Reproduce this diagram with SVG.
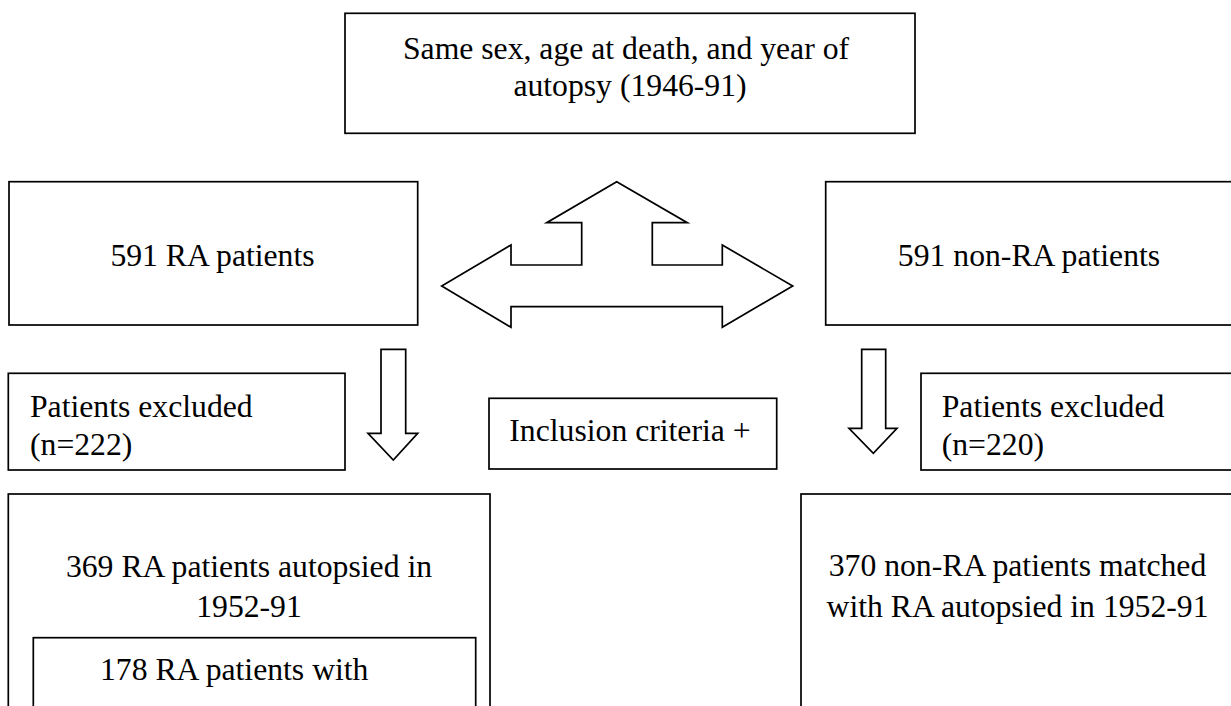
<svg xmlns="http://www.w3.org/2000/svg" width="1231" height="706" viewBox="0 0 1231 706" font-family="'Liberation Serif', 'Times New Roman', serif">
<style>
.box{fill:#fff;stroke:#000;stroke-width:1.7}
.arr{fill:#fff;stroke:#000;stroke-width:1.7;stroke-linejoin:miter}
.t{font-family:'Liberation Serif','Times New Roman',serif;font-size:31.7px;fill:#000}
.c{text-anchor:middle}
</style>
<rect width="1231" height="706" fill="#fff"/>
<g id="connectors">
<polygon class="arr" points="616.7,181.7 687.3,222.7 652.3,222.7 652.3,265 722.3,265 722.3,245 792.7,286 722.3,327.3 722.3,306.7 511,306.7 511,327.3 441.7,286 511,245 511,265 581.7,265 581.7,222.7 546.7,222.7"/>
<polygon class="arr" points="381,349.3 405.7,349.3 405.7,433.3 417.7,433.3 393.3,460 368,433.3 381,433.3"/>
<polygon class="arr" points="861.7,349.3 885.7,349.3 885.7,428.3 897,428.3 873.3,453.3 849,428.3 861.7,428.3"/>
</g>
<g id="matching">
<rect class="box" x="345" y="13.3" width="570" height="120"/>
<text class="t c" x="626" y="59">Same sex, age at death, and year of</text>
<text class="t c" x="630" y="96">autopsy (1946-91)</text>
</g>
<g id="ra">
<rect class="box" x="9" y="181.7" width="408.7" height="143.3"/>
<text class="t c" x="212.5" y="265.5">591 RA patients</text>
</g>
<g id="nonra">
<rect class="box" x="825.7" y="181.7" width="410" height="143.3"/>
<text class="t c" x="1029" y="265.5">591 non-RA patients</text>
</g>
<g id="excl-ra">
<rect class="box" x="8.3" y="373.3" width="336.7" height="96.7"/>
<text class="t" x="30" y="417.3">Patients excluded</text>
<text class="t" x="30" y="455">(n=222)</text>
</g>
<g id="inclusion">
<rect class="box" x="489" y="398.3" width="287.7" height="70.7"/>
<text class="t" x="509.3" y="440.7">Inclusion criteria +</text>
</g>
<g id="excl-nonra">
<rect class="box" x="921" y="373.3" width="315" height="96.7"/>
<text class="t" x="941.7" y="417.3">Patients excluded</text>
<text class="t" x="941.7" y="455">(n=220)</text>
</g>
<g id="ra-autopsied">
<rect class="box" x="8.3" y="494" width="481.7" height="230"/>
<text class="t c" x="249" y="576.7">369 RA patients autopsied in</text>
<text class="t c" x="249" y="616.7">1952-91</text>
</g>
<g id="ra-subset">
<rect class="box" x="33.3" y="637.7" width="442.4" height="90"/>
<text class="t" x="100" y="680">178 RA patients with</text>
</g>
<g id="nonra-matched">
<rect class="box" x="801" y="494" width="440" height="230"/>
<text class="t c" x="1017.5" y="575.5">370 non-RA patients matched</text>
<text class="t c" x="1017.5" y="616.7">with RA autopsied in 1952-91</text>
</g>
</svg>
